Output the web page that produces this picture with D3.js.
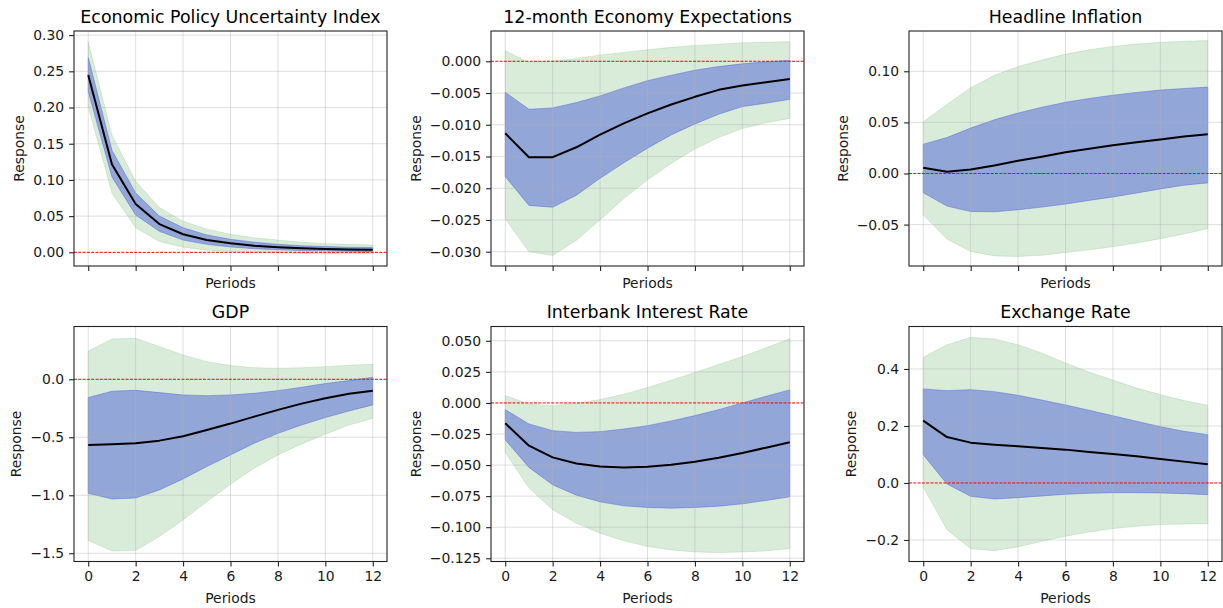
<!DOCTYPE html>
<html>
<head>
<meta charset="utf-8">
<script src="https://cdn.jsdelivr.net/npm/d3@7"></script>
<style>
  html, body { margin: 0; padding: 0; background: #fff; }
  svg { display: block; font-family: "DejaVu Sans", sans-serif; }
</style>
</head>
<body>
<svg id="chart" width="1223" height="608"></svg>
<script>
// Impulse responses over 12 periods: median path with 68% and 95% bands.
const periods = [0, 1, 2, 3, 4, 5, 6, 7, 8, 9, 10, 11, 12];

const titles = [
  "Economic Policy Uncertainty Index",
  "12-month Economy Expectations",
  "Headline Inflation",
  "GDP",
  "Interbank Interest Rate",
  "Exchange Rate"
];

// Economic Policy Uncertainty Index
const epuMedian = [0.245, 0.1215, 0.0667, 0.039, 0.025, 0.017, 0.0124, 0.009, 0.007, 0.0055, 0.0045, 0.004, 0.0037];
const epuLo68   = [0.222, 0.104, 0.0515, 0.029, 0.017, 0.011, 0.0075, 0.005, 0.0035, 0.0025, 0.002, 0.0015, 0.001];
const epuHi68   = [0.269, 0.141, 0.082, 0.050, 0.034, 0.024, 0.018, 0.014, 0.011, 0.009, 0.008, 0.007, 0.0065];
const epuLo95   = [0.201, 0.082, 0.034, 0.015, 0.007, 0.003, 0.001, 0.000, -0.001, -0.0015, -0.002, -0.002, -0.002];
const epuHi95   = [0.291, 0.162, 0.098, 0.062, 0.043, 0.032, 0.025, 0.020, 0.017, 0.014, 0.012, 0.011, 0.010];

// 12-month Economy Expectations
const expMedian = [-0.01134, -0.01513, -0.0151, -0.01355, -0.01155, -0.00977, -0.0082, -0.0068, -0.0056, -0.0045, -0.0038, -0.0033, -0.0028];
const expLo68   = [-0.01817, -0.0227, -0.0230, -0.0211, -0.01844, -0.0160, -0.0137, -0.0116, -0.00987, -0.00835, -0.00714, -0.0066, -0.0060];
const expHi68   = [-0.00488, -0.00756, -0.00735, -0.0065, -0.00546, -0.0042, -0.00305, -0.0022, -0.0014, -0.00084, -0.0004, -0.0001, 0.00016];
const expLo95   = [-0.0248, -0.0300, -0.0306, -0.0282, -0.0250, -0.0216, -0.0187, -0.0161, -0.0138, -0.0120, -0.0106, -0.0097, -0.0090];
const expHi95   = [0.00168, -0.0002, 0.0001, 0.0004, 0.0010, 0.0014, 0.0018, 0.0022, 0.0025, 0.0027, 0.0029, 0.0030, 0.0031];

// Headline Inflation
const infMedian = [0.0056, 0.0016, 0.0040, 0.0079, 0.0125, 0.0164, 0.0207, 0.0243, 0.0276, 0.0306, 0.0332, 0.0362, 0.0385];
const infLo68   = [-0.0188, -0.0319, -0.0372, -0.0375, -0.0355, -0.0329, -0.0299, -0.0263, -0.0230, -0.0191, -0.0151, -0.0115, -0.0092];
const infHi68   = [0.0286, 0.0352, 0.0444, 0.0526, 0.0592, 0.0648, 0.0697, 0.0734, 0.0766, 0.0793, 0.0816, 0.0832, 0.0845];
const infLo95   = [-0.0405, -0.0641, -0.0763, -0.0806, -0.0812, -0.0800, -0.0773, -0.0747, -0.0717, -0.0680, -0.0638, -0.0592, -0.0540];
const infHi95   = [0.0507, 0.0674, 0.0839, 0.0960, 0.1046, 0.1110, 0.1168, 0.1210, 0.1243, 0.1266, 0.1283, 0.1293, 0.1300];

// GDP
const gdpMedian = [-0.566, -0.560, -0.552, -0.529, -0.491, -0.437, -0.382, -0.322, -0.264, -0.210, -0.164, -0.124, -0.098];
const gdpLo68   = [-0.983, -1.032, -1.023, -0.954, -0.859, -0.753, -0.652, -0.552, -0.466, -0.394, -0.330, -0.273, -0.221];
const gdpHi68   = [-0.158, -0.103, -0.095, -0.115, -0.135, -0.141, -0.135, -0.121, -0.098, -0.069, -0.037, -0.011, 0.017];
const gdpLo95   = [-1.391, -1.480, -1.477, -1.356, -1.213, -1.055, -0.905, -0.767, -0.652, -0.557, -0.474, -0.394, -0.336];
const gdpHi95   = [0.244, 0.348, 0.353, 0.282, 0.210, 0.152, 0.118, 0.100, 0.095, 0.100, 0.109, 0.121, 0.129];

// Interbank Interest Rate
const ibrMedian = [-0.0164, -0.0344, -0.0438, -0.0487, -0.0511, -0.0519, -0.0513, -0.0497, -0.0473, -0.0441, -0.0403, -0.0360, -0.0317];
const ibrLo68   = [-0.0296, -0.0519, -0.0659, -0.0742, -0.0796, -0.0828, -0.0841, -0.0847, -0.0841, -0.0831, -0.0812, -0.0785, -0.0755];
const ibrHi68   = [-0.0054, -0.0169, -0.0223, -0.0237, -0.0231, -0.0210, -0.0183, -0.0145, -0.0102, -0.0054, 0.0000, 0.0054, 0.0105];
const ibrLo95   = [-0.0398, -0.0685, -0.0860, -0.0968, -0.1048, -0.1110, -0.1156, -0.1183, -0.1199, -0.1204, -0.1199, -0.1191, -0.1172];
const ibrHi95   = [0.0059, -0.0008, -0.0022, -0.0003, 0.0027, 0.0070, 0.0124, 0.0183, 0.0245, 0.0309, 0.0374, 0.0444, 0.0516];

// Exchange Rate
const fxMedian = [0.219, 0.161, 0.1415, 0.1345, 0.1287, 0.1228, 0.117, 0.1088, 0.1018, 0.0936, 0.0842, 0.0749, 0.0655];
const fxLo68   = [0.0994, -0.0035, -0.0468, -0.0561, -0.0515, -0.0456, -0.0398, -0.0363, -0.034, -0.034, -0.035, -0.0374, -0.041];
const fxHi68   = [0.330, 0.324, 0.3275, 0.3205, 0.3076, 0.291, 0.2737, 0.255, 0.236, 0.2164, 0.1977, 0.1813, 0.1696];
const fxLo95   = [-0.0152, -0.1637, -0.2304, -0.2374, -0.2246, -0.2047, -0.187, -0.172, -0.160, -0.152, -0.146, -0.1439, -0.1427];
const fxHi95   = [0.441, 0.485, 0.511, 0.505, 0.485, 0.456, 0.421, 0.389, 0.361, 0.333, 0.310, 0.289, 0.2725];

// Tick values per panel
const xTicks = [0, 2, 4, 6, 8, 10, 12];
const epuTicks = [0.00, 0.05, 0.10, 0.15, 0.20, 0.25, 0.30];
const expTicks = [-0.030, -0.025, -0.020, -0.015, -0.010, -0.005, 0.000];
const infTicks = [-0.05, 0.00, 0.05, 0.10];
const gdpTicks = [-1.5, -1.0, -0.5, 0.0];
const ibrTicks = [-0.125, -0.100, -0.075, -0.050, -0.025, 0.000, 0.025, 0.050];
const fxTicks = [-0.2, 0.0, 0.2, 0.4];

const panels = [
  { title: titles[0], med: epuMedian, lo68: epuLo68, hi68: epuHi68, lo95: epuLo95, hi95: epuHi95, ticks: epuTicks, fmt: ".2f", dom: [-0.0189, 0.3057] },
  { title: titles[1], med: expMedian, lo68: expLo68, hi68: expHi68, lo95: expLo95, hi95: expHi95, ticks: expTicks, fmt: ".3f", dom: [-0.03225, 0.00477] },
  { title: titles[2], med: infMedian, lo68: infLo68, hi68: infHi68, lo95: infLo95, hi95: infHi95, ticks: infTicks, fmt: ".2f", dom: [-0.0905, 0.1394] },
  { title: titles[3], med: gdpMedian, lo68: gdpLo68, hi68: gdpHi68, lo95: gdpLo95, hi95: gdpHi95, ticks: gdpTicks, fmt: ".1f", dom: [-1.571, 0.455] },
  { title: titles[4], med: ibrMedian, lo68: ibrLo68, hi68: ibrHi68, lo95: ibrLo95, hi95: ibrHi95, ticks: ibrTicks, fmt: ".3f", dom: [-0.1276, 0.0615] },
  { title: titles[5], med: fxMedian, lo68: fxLo68, hi68: fxHi68, lo95: fxLo95, hi95: fxHi95, ticks: fxTicks, fmt: ".1f", dom: [-0.2755, 0.549] }
];

const colLeft = [74, 491, 909];
const rowTop = [31, 326.5];
const axW = 313, axH = 235;
const textColor = "#1a1a1a";

const svg = d3.select("#chart");

panels.forEach((p, i) => {
  const col = i % 3, row = Math.floor(i / 3);
  const left = colLeft[col], top = rowTop[row];
  const g = svg.append("g").attr("transform", `translate(${left},${top})`);

  const x = d3.scaleLinear().domain([-0.6, 12.6]).range([0, axW]);
  const y = d3.scaleLinear().domain(p.dom).range([axH, 0]);

  const band = (lo, hi) => d3.area()
    .x((d, k) => x(periods[k]))
    .y0((d, k) => y(lo[k]))
    .y1((d, k) => y(hi[k]))(periods);

  // 95% band
  g.append("path").attr("d", band(p.lo95, p.hi95))
    .attr("fill", "rgb(0,128,0)").attr("fill-opacity", 0.15)
    .attr("stroke", "rgb(0,128,0)").attr("stroke-opacity", 0.12).attr("stroke-width", 1);
  // 68% band
  g.append("path").attr("d", band(p.lo68, p.hi68))
    .attr("fill", "rgb(77,96,215)").attr("fill-opacity", 0.5)
    .attr("stroke", "rgb(77,96,215)").attr("stroke-opacity", 0.45).attr("stroke-width", 1);

  // grid (the zero row is left to the red reference line)
  const grid = g.append("g").attr("stroke", "#b0b0b0").attr("stroke-opacity", 0.45).attr("stroke-width", 0.9);
  xTicks.forEach(t => grid.append("line").attr("x1", x(t)).attr("x2", x(t)).attr("y1", 0).attr("y2", axH));
  p.ticks.filter(t => t !== 0).forEach(t => grid.append("line").attr("x1", 0).attr("x2", axW).attr("y1", y(t)).attr("y2", y(t)));

  // zero reference
  g.append("line").attr("x1", 0).attr("x2", axW).attr("y1", y(0)).attr("y2", y(0))
    .attr("stroke", "#f00").attr("stroke-width", 1).attr("stroke-dasharray", "3,1.3");

  // median response
  g.append("path")
    .attr("d", d3.line().x((d, k) => x(periods[k])).y((d, k) => y(p.med[k]))(periods))
    .attr("fill", "none").attr("stroke", "#000").attr("stroke-width", 2).attr("stroke-linejoin", "round");

  // spines
  g.append("rect").attr("x", 0).attr("y", 0).attr("width", axW).attr("height", axH)
    .attr("fill", "none").attr("stroke", "#222").attr("stroke-width", 1.1);

  const minus = s => s.replace("-", "\u2212");

  // y axis
  const fy = d3.format(p.fmt);
  const ya = g.append("g").call(d3.axisLeft(y).tickValues(p.ticks).tickSize(4.9).tickPadding(4.9)
    .tickFormat(d => minus(fy(d))));
  ya.select(".domain").remove();
  ya.selectAll("line").attr("stroke", "#222").attr("stroke-width", 1.1);
  ya.selectAll("text").attr("fill", textColor).style("font-size", "13.9px").style("font-family", "DejaVu Sans");

  // x axis
  const xa = g.append("g").attr("transform", `translate(0,${axH})`)
    .call(d3.axisBottom(x).tickValues(xTicks).tickSize(4.9).tickPadding(4.9)
      .tickFormat(d => row === 1 ? String(d) : ""));
  xa.select(".domain").remove();
  xa.selectAll("line").attr("stroke", "#222").attr("stroke-width", 1.1);
  xa.selectAll("text").attr("fill", textColor).style("font-size", "13.9px").style("font-family", "DejaVu Sans");

  // title
  g.append("text").attr("x", axW / 2).attr("y", -8.5).attr("text-anchor", "middle")
    .attr("fill", "#000").style("font-size", "17.4px").text(p.title);

  // x label
  g.append("text").attr("x", axW / 2).attr("y", row === 1 ? axH + 41.5 : axH + 21.5)
    .attr("text-anchor", "middle").attr("fill", textColor).style("font-size", "13.9px").text("Periods");

  // y label, placed left of the tick labels
  const bb = ya.node().getBBox();
  const lx = bb.x - 14;
  g.append("text").attr("transform", `translate(${lx},${axH / 2}) rotate(-90)`)
    .attr("text-anchor", "middle").attr("dominant-baseline", "central")
    .attr("fill", textColor).style("font-size", "13.9px").text("Response");
});
</script>
</body>
</html>
